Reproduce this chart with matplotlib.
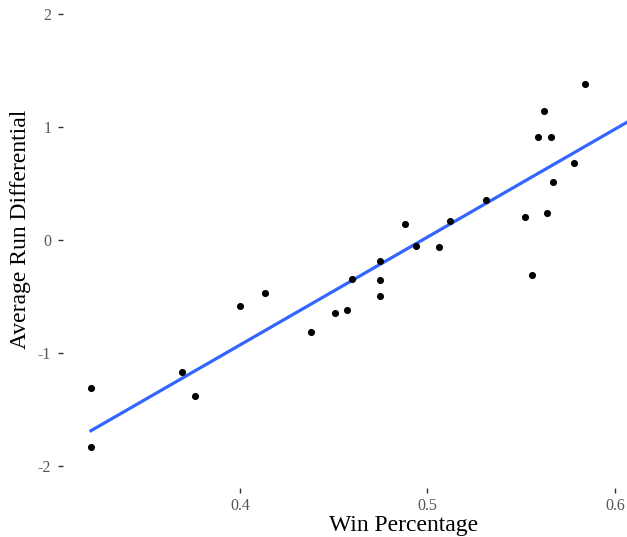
import numpy as np
import matplotlib.pyplot as plt

# win percentage vs average run differential
win_pct = [0.3205, 0.3205, 0.369, 0.376, 0.400, 0.4133, 0.4379, 0.4508, 0.4569,
           0.4596, 0.4748, 0.4748, 0.4748, 0.488, 0.494, 0.506, 0.512, 0.531,
           0.552, 0.556, 0.559, 0.562, 0.564, 0.566, 0.567, 0.578, 0.584]
run_diff = [-1.31, -1.83, -1.17, -1.38, -0.58, -0.47, -0.81, -0.643, -0.622,
            -0.342, -0.186, -0.357, -0.496, 0.139, -0.053, -0.059, 0.171, 0.354,
            0.206, -0.31, 0.909, 1.139, 0.242, 0.915, 0.513, 0.684, 1.378]

# linear fit as drawn in the picture
fit_slope = 9.55
fit_intercept = -4.749

x_ticks = [0.4, 0.5, 0.6]
y_ticks = [-2, -1, 0, 1, 2]

plt.rcParams['font.family'] = ['Liberation Serif', 'DejaVu Serif']

fig = plt.figure(figsize=(6.27, 5.37), dpi=100)
ax = fig.add_axes([63 / 627, 49 / 537, 564 / 627, 488 / 537])

xlo, xhi = 0.3056, 0.6064
ax.set_xlim(xlo, xhi)
ax.set_ylim(-2.195, 2.124)

xs = np.array([min(win_pct), xhi])
ax.plot(xs, fit_slope * xs + fit_intercept, color='#3366FF', lw=2.3, zorder=2)
ax.scatter(win_pct, run_diff, s=26, color='black', zorder=3, linewidths=0)

for s in ax.spines.values():
    s.set_visible(False)

ax.set_xticks(x_ticks)
ax.set_xticklabels(['0.4', '0.5', '0.6'])
ax.set_yticks(y_ticks)
ax.set_yticklabels(['-2', '-1', '0', '1', '2'])
ax.tick_params(direction='out', length=3.5, width=1, color='#333333',
               labelcolor='#555555', labelsize=11.5)
ax.tick_params(axis='x', pad=4)
ax.tick_params(axis='y', pad=5)

ax.set_xlabel('Win Percentage', fontsize=17)
ax.set_ylabel('Average Run Differential', fontsize=17)
ax.xaxis.set_label_coords(0.603, -0.055)
ax.yaxis.set_label_coords(-0.056, 0.53)

fig.savefig('out.png', dpi=100)
